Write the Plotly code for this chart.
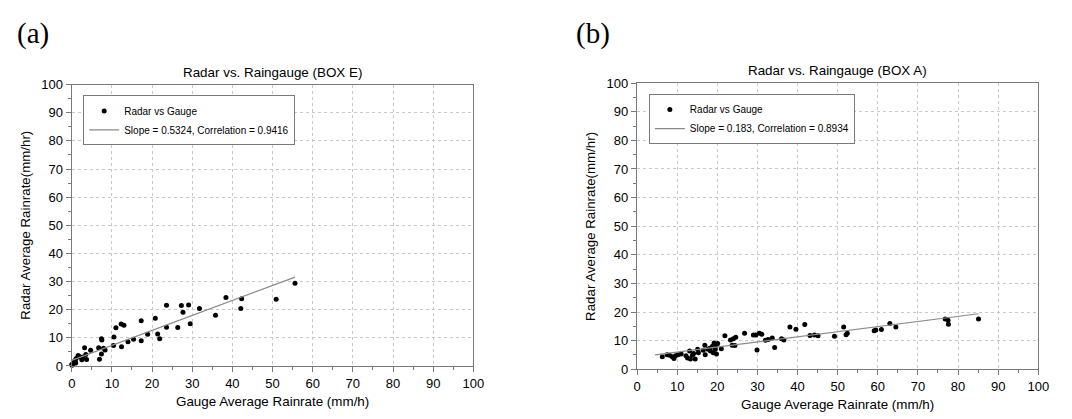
import plotly.graph_objects as go

# ---------------- data ----------------
box_e_gauge = [55.6, 50.9, 42.3, 42.1, 38.4, 35.8, 31.8, 29.5, 29.1, 27.7, 27.3, 26.4,
               23.6, 23.6, 21.9, 21.4, 20.8, 18.9, 17.3, 17.3, 15.4, 14.0, 13.0, 12.3,
               12.4, 11.0, 10.5, 10.4, 8.3, 7.9, 7.5, 7.4, 7.4, 6.9, 6.7, 4.7, 3.7, 3.5,
               3.2, 2.8, 2.5, 2.0, 1.6, 1.1, 0.8, 0.6, 0.3, 0.1, 0.0, 1.0, 0.7]
box_e_radar = [29.4, 23.7, 23.9, 20.4, 24.3, 18.0, 20.4, 15.0, 21.7, 19.1, 21.5, 13.7,
               21.6, 13.8, 9.7, 11.4, 17.0, 11.3, 16.1, 9.0, 9.5, 8.6, 14.5, 14.9,
               6.8, 13.6, 10.3, 7.3, 5.7, 6.3, 9.2, 9.7, 4.3, 2.4, 6.5, 5.6, 2.3, 4.1,
               6.5, 3.2, 2.2, 3.3, 3.7, 2.7, 1.9, 1.3, 0.8, 0.3, 0.5, 1.1, 1.7]
box_e_fit_x = [0.0, 55.6]
box_e_fit_y = [2.0, 31.6]

box_a_gauge = [85.1, 77.6, 77.5, 76.8, 64.5, 63.0, 60.9, 59.5, 59.1, 52.4, 52.1, 51.5,
               49.2, 45.1, 44.2, 43.1, 41.8, 39.6, 38.1, 36.6, 36.0, 34.3, 33.7, 32.7,
               32.0, 31.1, 30.5, 29.9, 29.6, 29.0, 26.8, 24.6, 24.4, 24.0, 23.7, 23.3,
               21.9, 21.0, 20.1, 19.8, 19.7, 19.5, 19.2, 19.0, 18.8, 18.3, 18.1, 17.7,
               17.0, 16.9, 16.5, 15.3, 15.1, 14.5, 14.1, 13.8, 13.3, 13.1, 12.6, 12.2,
               11.0, 10.2, 9.6, 9.2, 8.8, 8.1, 7.5, 6.3]
box_a_radar = [17.6, 15.7, 17.1, 17.6, 14.8, 16.0, 13.9, 13.7, 13.5, 12.6, 12.1, 14.8,
               11.5, 11.7, 12.0, 11.8, 15.6, 14.0, 14.8, 10.2, 10.7, 7.6, 10.9, 10.4,
               10.1, 12.2, 12.6, 6.7, 12.0, 12.0, 12.6, 11.2, 8.3, 10.7, 8.4, 10.2,
               11.7, 7.2, 9.0, 5.3, 8.4, 7.0, 9.2, 5.8, 8.0, 6.4, 7.3, 7.0,
               5.1, 8.4, 6.6, 5.8, 7.0, 3.6, 5.5, 4.9, 3.6, 6.4, 3.9, 4.7,
               5.3, 5.1, 4.7, 3.8, 4.4, 4.9, 5.1, 4.4]
box_a_fit_x = [4.5, 85.1]
box_a_fit_y = [5.0, 19.4]

titles = ["Radar vs. Raingauge (BOX E)", "Radar vs. Raingauge (BOX A)"]
panel_labels = ["(a)", "(b)"]
fit_labels = ["Slope = 0.5324, Correlation = 0.9416", "Slope = 0.183, Correlation = 0.8934"]
x_title = "Gauge Average Rainrate (mm/h)"
y_title = "Radar Average Rainrate(mm/hr)"

# ---------------- figure ----------------
W, H = 1072, 419
FONT = "Liberation Sans, Arial, Helvetica, sans-serif"


def px_x(p):
    return p / W


def px_y(p):
    return (H - p) / H


fig = go.Figure()

fig.add_trace(go.Scatter(x=box_e_gauge, y=box_e_radar, mode="markers", name="Radar vs Gauge",
                         marker=dict(color="black", size=5), cliponaxis=False,
                         xaxis="x", yaxis="y", legend="legend"))
fig.add_trace(go.Scatter(x=box_e_fit_x, y=box_e_fit_y, mode="lines", name=fit_labels[0],
                         line=dict(color="#8a8a8a", width=1.2),
                         xaxis="x", yaxis="y", legend="legend"))
fig.add_trace(go.Scatter(x=box_a_gauge, y=box_a_radar, mode="markers", name="Radar vs Gauge",
                         marker=dict(color="black", size=5), cliponaxis=False,
                         xaxis="x2", yaxis="y2", legend="legend2"))
fig.add_trace(go.Scatter(x=box_a_fit_x, y=box_a_fit_y, mode="lines", name=fit_labels[1],
                         line=dict(color="#8a8a8a", width=1.2),
                         xaxis="x2", yaxis="y2", legend="legend2"))

# pixel geometry of the two plot areas
areas = [
    dict(x0=68.7, x1=476.0, y0=372.3, y1=80.5),
    dict(x0=642.0, x1=1049.0, y0=375.7, y1=79.0),
]

axis_common = dict(
    range=[0, 100], dtick=10, tick0=0,
    showgrid=True, gridcolor="#c8c8c8", griddash="dot", gridwidth=1,
    showline=True, linecolor="#7a7a7a", linewidth=1.2, mirror=True,
    ticks="outside", ticklen=5, tickcolor="#7a7a7a", tickwidth=1,
    minor=dict(dtick=5, ticks="outside", ticklen=3, tickcolor="#7a7a7a", showgrid=False),
    tickfont=dict(family=FONT, size=13, color="black"),
    zeroline=False, fixedrange=True,
)

layout = dict(
    width=W, height=H,
    margin=dict(l=0, r=0, t=0, b=0, pad=0),
    paper_bgcolor="white", plot_bgcolor="white",
    font=dict(family=FONT, color="black"),
    showlegend=True,
)

for i, a in enumerate(areas):
    sx = "" if i == 0 else str(i + 1)
    layout["xaxis" + sx] = dict(axis_common, domain=[px_x(a["x0"]), px_x(a["x1"])],
                                anchor="y" + sx)
    layout["yaxis" + sx] = dict(axis_common, domain=[px_y(a["y0"]), px_y(a["y1"])],
                                anchor="x" + sx)

legend_pos = [(80.3, 91.7), (654.0, 90.3)]
for i, (lx, ly) in enumerate(legend_pos):
    key = "legend" if i == 0 else "legend2"
    layout[key] = dict(
        x=px_x(lx), y=px_y(ly), xanchor="left", yanchor="top",
        xref="paper", yref="paper",
        bgcolor="white", bordercolor="#7a7a7a", borderwidth=1,
        font=dict(family=FONT, size=10, color="black"),
        itemwidth=30, tracegroupgap=0,
    )

fig.update_layout(**layout)

annotations = []


def add_text(text, x, y, size, family=FONT, angle=0):
    annotations.append(dict(text=text, x=px_x(x), y=px_y(y),
                            xref="paper", yref="paper", showarrow=False,
                            xanchor="center", yanchor="middle", textangle=angle,
                            font=dict(family=family, size=size, color="black")))


for i, a in enumerate(areas):
    cx = (a["x0"] + a["x1"]) / 2
    add_text(titles[i], cx, a["y1"] - 13, 13.4)
    add_text(x_title, cx, a["y0"] + 37, 13.4)
    add_text(y_title, a["x0"] - 47, (a["y0"] + a["y1"]) / 2, 13.3, angle=-90)

panel_pos = [(29.5, 28.0), (597.5, 28.0)]
for i, (tx, ty) in enumerate(panel_pos):
    add_text(panel_labels[i], tx, ty, 29, family="Liberation Serif, Times New Roman, serif")

fig.update_layout(annotations=annotations)

# drop the default page margin so the 1072x419 figure fills the window exactly
page_css = (
    "document.documentElement.style.margin='0';"
    "document.documentElement.style.padding='0';"
    "document.documentElement.style.overflow='hidden';"
    "document.body.style.margin='0';"
    "document.body.style.padding='0';"
    "document.body.style.overflow='hidden';"
)

fig.write_html("out.html", config=dict(displayModeBar=False), post_script=page_css)
